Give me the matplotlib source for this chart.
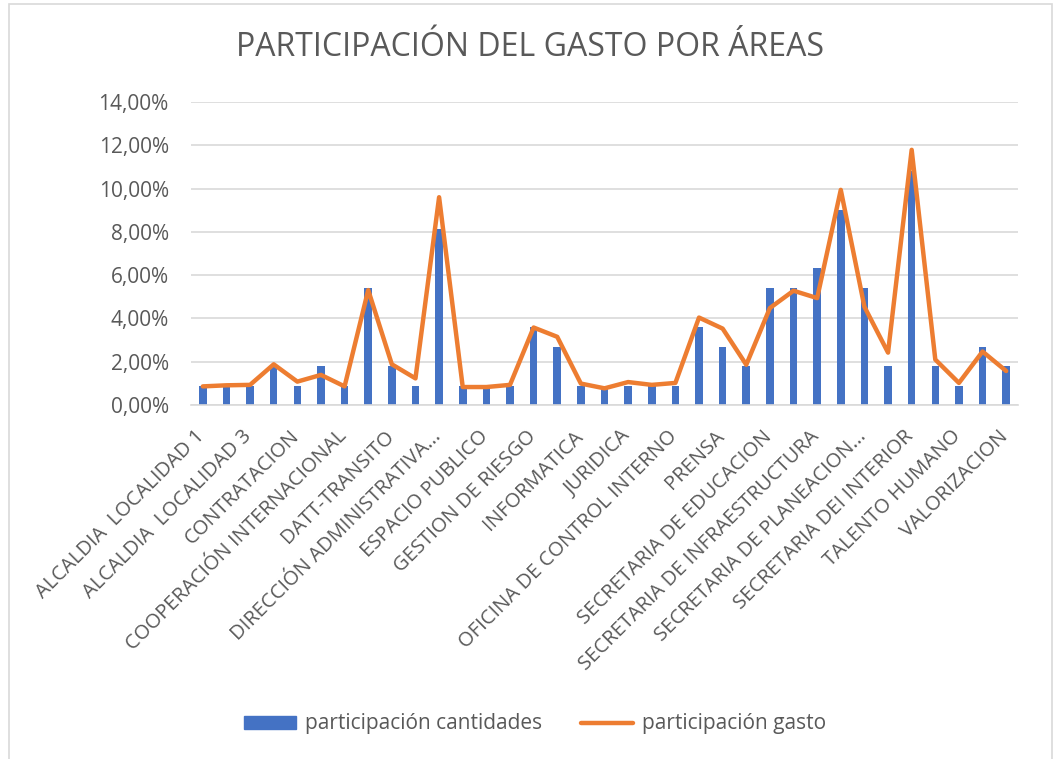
import numpy as np
import matplotlib
matplotlib.use('Agg')
import matplotlib.pyplot as plt
import matplotlib.transforms as mtransforms
from matplotlib.patches import Rectangle
from matplotlib.lines import Line2D
from matplotlib.patches import Patch

plt.rcParams.update({'font.family': ['Open Sans', 'DejaVu Sans']})

# every area on the axis; Excel only prints every second name
areas = [
    'ALCALDIA  LOCALIDAD 1', 'ALCALDIA  LOCALIDAD 2', 'ALCALDIA  LOCALIDAD 3',
    'ALMACEN', 'CONTRATACION', 'CONTROL DISCIPLINARIO',
    'COOPERACIÓN INTERNACIONAL', 'DATT', 'DATT-TRANSITO', 'DESPACHO',
    'DIRECCIÓN ADMINISTRATIVA...', 'ESPACIO PUBLICO', 'ESPACIO PUBLICO',
    'GESTION DOCUMENTAL', 'GESTION DE RIESGO', 'HACIENDA', 'INFORMATICA',
    'JURIDICA ', 'JURIDICA', 'OFICINA ASESORA', 'OFICINA DE CONTROL INTERNO',
    'PARTICIPACION', 'PRENSA', 'SECRETARIA DE CULTURA',
    'SECRETARIA DE EDUCACION', 'SECRETARIA DE GOBIERNO',
    'SECRETARIA DE INFRAESTRUCTURA', 'SECRETARIA DE MOVILIDAD',
    'SECRETARIA DE PLANEACION...', 'SECRETARIA DE SALUD',
    'SECRETARIA DEI INTERIOR', 'SECRETARIA GENERAL', 'TALENTO HUMANO',
    'TURISMO', 'VALORIZACION',
]

# participacion cantidades (%)
cantidades = [0.90, 0.90, 0.90, 1.80, 0.90, 1.80, 0.90, 5.41, 1.80, 0.90,
              8.11, 0.90, 0.90, 0.90, 3.60, 2.70, 0.90, 0.90, 0.90, 0.90,
              0.90, 3.60, 2.70, 1.80, 5.41, 5.41, 6.31, 9.01, 5.41, 1.80,
              10.81, 1.80, 0.90, 2.70, 1.80]

# participacion gasto (%)
gasto = [0.86, 0.91, 0.93, 1.88, 1.08, 1.39, 0.86, 5.31, 1.88, 1.23,
         9.60, 0.83, 0.83, 0.93, 3.58, 3.15, 0.99, 0.77, 1.06, 0.93,
         1.02, 4.04, 3.53, 1.86, 4.48, 5.28, 4.94, 9.94, 4.54, 2.42,
         11.79, 2.10, 1.02, 2.47, 1.57]

blue = '#4472C4'
orange = '#ED7D31'
txt = '#595959'

fig = plt.figure(figsize=(10.53, 7.59), dpi=100)
ax = fig.add_axes([191 / 1053, 1 - 405 / 759, 827 / 1053, 303 / 759])

x = np.arange(len(areas))
ax.bar(x, cantidades, width=0.32, color=blue, zorder=2)
ax.plot(x, gasto, color=orange, lw=3.2, solid_joinstyle='round',
        solid_capstyle='round', zorder=3)

ax.set_xlim(-0.5, len(areas) - 0.5)
ax.set_ylim(0, 14)
ax.set_yticks(np.arange(0, 15, 2))
ax.set_yticklabels([f'{v:.2f}%'.replace('.', ',') for v in np.arange(0, 15, 2)],
                   fontsize=15, color=txt)
ax.grid(axis='y', color='#D9D9D9', lw=1.2, zorder=0)
ax.set_axisbelow(True)
for s in ['top', 'right', 'left']:
    ax.spines[s].set_visible(False)
ax.spines['bottom'].set_color('#D9D9D9')
ax.spines['bottom'].set_linewidth(1.2)
ax.tick_params(axis='both', length=0)
ax.tick_params(axis='y', pad=16)

ax.set_xticks(x[::2])
ax.set_xticklabels(areas[::2], rotation=45, ha='right', rotation_mode='anchor',
                   fontsize=14.5, color=txt)
ax.tick_params(axis='x', pad=14)
# nudge the slanted names a little to the left, as Excel places them
shift = mtransforms.ScaledTranslation(-0.08, -0.02, fig.dpi_scale_trans)
for lab in ax.get_xticklabels():
    lab.set_transform(lab.get_transform() + shift)

fig.text(0.503, 1 - 47 / 759, 'PARTICIPACIÓN DEL GASTO POR ÁREAS',
         ha='center', va='center', fontsize=23, color=txt)

handles = [Patch(color=blue, label='participación cantidades'),
           Line2D([], [], color=orange, lw=3.2, solid_capstyle='round',
                  label='participación gasto')]
fig.legend(handles=handles, loc='center', bbox_to_anchor=(0.508, 1 - 724 / 759),
           ncol=2, frameon=False, fontsize=15, labelcolor=txt,
           handlelength=2.5, handleheight=0.6, columnspacing=1.9,
           handletextpad=0.4)

fig.patches.append(Rectangle((9 / 1053, -0.01), 1043 / 1053, 1.01 - 4 / 759,
                             transform=fig.transFigure, fill=False,
                             edgecolor='#D9D9D9', lw=1.2))

fig.savefig('out.png', dpi=100)
